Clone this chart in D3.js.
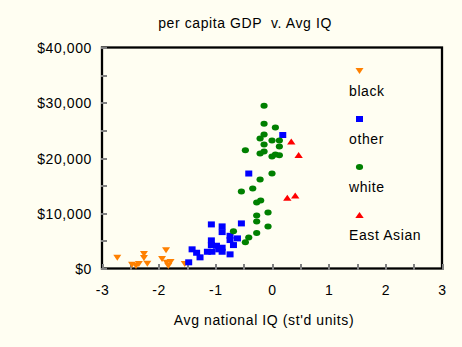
<!DOCTYPE html>
<html>
<head>
<meta charset="utf-8">
<script src="https://cdn.jsdelivr.net/npm/d3@7"></script>
<style>
	body { margin: 0; background: #fffef2; }
	svg text { font-family: 'Liberation Sans', Arial, sans-serif; font-size: 14px; letter-spacing: 0.6px; fill: #000; white-space: pre; }
	.tick line { stroke: #808080; stroke-width: 2; shape-rendering: crispEdges; }
	.domain { display: none; }
</style>
</head>
<body>
<svg width="462" height="347"></svg>
<script>
// [avg IQ in std units, per capita GDP in $]
const black = [
	[-2.73, 1950], [-2.47, 690], [-2.40, 450], [-2.35, 810], [-2.26, 2620], [-2.26, 1900],
	[-2.20, 870], [-1.94, 1720], [-1.87, 3290], [-1.86, 1050], [-1.83, 450], [-1.79, 1170],
	[-1.54, 810]
];
const other = [
	[-1.07, 7980], [-0.88, 7620], [-0.88, 6590], [-0.54, 8160], [-0.74, 5920], [-0.74, 5150],
	[-0.61, 5450], [-1.07, 5090], [-1.07, 4240], [-1.41, 3470], [-1.33, 2850], [-1.27, 2020],
	[-1.14, 3030], [-1.06, 3030], [-0.98, 4120], [-0.94, 3470], [-0.88, 3760], [-0.88, 3030],
	[-0.68, 4240], [-0.74, 2560], [-1.47, 1120], [-0.41, 17190], [0.19, 24160]
];
const white = [
	[-0.14, 29470], [-0.14, 26220], [0.06, 25500], [-0.14, 24240], [-0.21, 23510], [0.00, 23150],
	[0.13, 23150], [-0.14, 22430], [-0.47, 21400], [0.13, 22070], [-0.14, 21170], [-0.21, 20800],
	[0.06, 20620], [0.00, 20260], [0.13, 20500], [0.00, 17190], [-0.21, 16110], [-0.54, 13940],
	[-0.34, 14480], [-0.20, 12320], [-0.27, 11960], [-0.07, 10150], [-0.27, 9610], [-0.27, 8520],
	[-0.07, 7620], [-0.27, 6410], [-0.41, 5630], [-0.47, 4730], [-0.68, 6720]
];
const eastAsian = [
	[0.34, 22970], [0.47, 20550], [0.27, 12820], [0.41, 13220]
];
const categories = ['black', 'other', 'white', 'East Asian'];
const colors = ['#ff8000', '#0000ff', '#008000', '#ff0000'];
const xTicks = [-3, -2.5, -2, -1.5, -1, -0.5, 0, 0.5, 1, 1.5, 2, 2.5, 3];
const yTicks = [0, 5000, 10000, 15000, 20000, 25000, 30000, 35000, 40000];

const w = 462;
const h = 347;
const plotLeft = 102;
const plotRight = 442;
const plotTop = 47.5;
const plotBottom = 268.5;

const svg = d3.select('svg');

const xScale = d3.scaleLinear().domain([-3, 3]).range([plotLeft, plotRight]);
const yScale = d3.scaleLinear().domain([0, 40000]).range([plotBottom, plotTop]);

svg.append('rect')
	.attr('width', w)
	.attr('height', h)
	.attr('fill', '#fffef2');

svg.append('text')
	.attr('x', 245)
	.attr('y', 27.5)
	.attr('text-anchor', 'middle')
	.text('per capita GDP  v. Avg IQ');

svg.append('text')
	.attr('x', 264)
	.attr('y', 325)
	.attr('text-anchor', 'middle')
	.text("Avg national IQ (st'd units)");

// plot frame
svg.append('rect')
	.attr('x', plotLeft)
	.attr('y', plotTop)
	.attr('width', plotRight - plotLeft)
	.attr('height', plotBottom - plotTop)
	.attr('fill', 'none')
	.attr('stroke', '#000')
	.attr('stroke-width', 2.3);

const dollars = d3.format('$,');

svg.append('g')
	.attr('transform', `translate(${plotLeft - 1}, 0)`)
	.call(d3.axisLeft(yScale)
		.tickValues(yTicks)
		.tickSize(-6)
		.tickPadding(9)
		.tickFormat(v => v % 10000 === 0 ? dollars(v) : ''))
	.selectAll('text')
	.attr('dy', '0.36em');

svg.append('g')
	.attr('transform', `translate(0, ${plotBottom + 1})`)
	.call(d3.axisBottom(xScale)
		.tickValues(xTicks)
		.tickSize(-6)
		.tickPadding(16)
		.tickFormat(v => Number.isInteger(v) ? String(v) : ''));

svg.selectAll('g')
	.attr('font-family', null)
	.attr('font-size', null);

// marker shapes, one per category
const markers = [
	(g, x, y) => g.append('path').attr('d', `M${x - 4},${y - 3}h8l-4,6z`),
	(g, x, y) => g.append('rect').attr('x', x - 3.5).attr('y', y - 3).attr('width', 7).attr('height', 6),
	(g, x, y) => g.append('ellipse').attr('cx', x).attr('cy', y).attr('rx', 3.6).attr('ry', 3),
	(g, x, y) => g.append('path').attr('d', `M${x},${y - 3}l4.2,6h-8.4z`)
];

[black, other, white, eastAsian].forEach((series, i) => {
	const group = svg.append('g').attr('fill', colors[i]);
	series.forEach(d => markers[i](group, xScale(d[0]), yScale(d[1])));
});

// legend
categories.forEach((name, i) => {
	const group = svg.append('g').attr('class', 'legend');
	markers[i](group.append('g').attr('fill', colors[i]), 359.5, 71 + i * 48);
	group.append('text')
		.attr('x', 349)
		.attr('y', 95.5 + i * 48)
		.text(name);
});
</script>
</body>
</html>
